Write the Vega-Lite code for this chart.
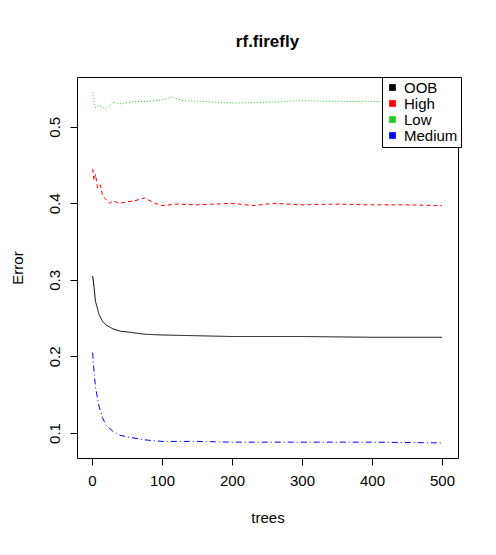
{
  "$schema": "https://vega.github.io/schema/vega-lite/v6.json",
  "autosize": {"type": "none"},
  "width": 381,
  "height": 381,
  "padding": {"left": 77, "top": 77, "right": 38, "bottom": 97},
  "background": "white",
  "title": {"text": "rf.firefly", "font": "Liberation Sans", "fontSize": 17, "fontWeight": "bold", "offset": 26, "anchor": "middle"},
  "config": {
    "view": {"stroke": "black", "strokeWidth": 1},
    "font": "Liberation Sans",
    "axis": {"grid": false, "domain": false, "tickColor": "black", "tickSize": 7, "labelColor": "black", "labelFontSize": 15, "labelPadding": 8, "titleFontSize": 15, "titleFontWeight": "normal", "titleColor": "black"}
  },
  "data": {"values": [
    {"trees": 1, "err": 0.305, "class": "OOB"},
    {"trees": 3, "err": 0.29, "class": "OOB"},
    {"trees": 5, "err": 0.272, "class": "OOB"},
    {"trees": 10, "err": 0.255, "class": "OOB"},
    {"trees": 15, "err": 0.246, "class": "OOB"},
    {"trees": 20, "err": 0.241, "class": "OOB"},
    {"trees": 30, "err": 0.236, "class": "OOB"},
    {"trees": 40, "err": 0.233, "class": "OOB"},
    {"trees": 50, "err": 0.232, "class": "OOB"},
    {"trees": 75, "err": 0.229, "class": "OOB"},
    {"trees": 100, "err": 0.228, "class": "OOB"},
    {"trees": 150, "err": 0.227, "class": "OOB"},
    {"trees": 200, "err": 0.226, "class": "OOB"},
    {"trees": 300, "err": 0.226, "class": "OOB"},
    {"trees": 400, "err": 0.225, "class": "OOB"},
    {"trees": 500, "err": 0.225, "class": "OOB"},
    {"trees": 1, "err": 0.445, "class": "High"},
    {"trees": 3, "err": 0.43, "class": "High"},
    {"trees": 5, "err": 0.438, "class": "High"},
    {"trees": 8, "err": 0.42, "class": "High"},
    {"trees": 12, "err": 0.424, "class": "High"},
    {"trees": 15, "err": 0.41, "class": "High"},
    {"trees": 20, "err": 0.405, "class": "High"},
    {"trees": 25, "err": 0.4, "class": "High"},
    {"trees": 30, "err": 0.403, "class": "High"},
    {"trees": 40, "err": 0.4, "class": "High"},
    {"trees": 50, "err": 0.402, "class": "High"},
    {"trees": 60, "err": 0.403, "class": "High"},
    {"trees": 75, "err": 0.407, "class": "High"},
    {"trees": 90, "err": 0.4, "class": "High"},
    {"trees": 100, "err": 0.397, "class": "High"},
    {"trees": 120, "err": 0.399, "class": "High"},
    {"trees": 150, "err": 0.398, "class": "High"},
    {"trees": 200, "err": 0.4, "class": "High"},
    {"trees": 230, "err": 0.397, "class": "High"},
    {"trees": 260, "err": 0.4, "class": "High"},
    {"trees": 300, "err": 0.398, "class": "High"},
    {"trees": 350, "err": 0.399, "class": "High"},
    {"trees": 400, "err": 0.398, "class": "High"},
    {"trees": 450, "err": 0.398, "class": "High"},
    {"trees": 500, "err": 0.397, "class": "High"},
    {"trees": 1, "err": 0.545, "class": "Low"},
    {"trees": 3, "err": 0.53, "class": "Low"},
    {"trees": 5, "err": 0.525, "class": "Low"},
    {"trees": 10, "err": 0.528, "class": "Low"},
    {"trees": 20, "err": 0.523, "class": "Low"},
    {"trees": 30, "err": 0.532, "class": "Low"},
    {"trees": 40, "err": 0.53, "class": "Low"},
    {"trees": 60, "err": 0.533, "class": "Low"},
    {"trees": 80, "err": 0.533, "class": "Low"},
    {"trees": 100, "err": 0.535, "class": "Low"},
    {"trees": 115, "err": 0.539, "class": "Low"},
    {"trees": 130, "err": 0.534, "class": "Low"},
    {"trees": 160, "err": 0.533, "class": "Low"},
    {"trees": 200, "err": 0.531, "class": "Low"},
    {"trees": 250, "err": 0.532, "class": "Low"},
    {"trees": 300, "err": 0.534, "class": "Low"},
    {"trees": 350, "err": 0.533, "class": "Low"},
    {"trees": 400, "err": 0.533, "class": "Low"},
    {"trees": 450, "err": 0.533, "class": "Low"},
    {"trees": 500, "err": 0.534, "class": "Low"},
    {"trees": 1, "err": 0.205, "class": "Medium"},
    {"trees": 3, "err": 0.18, "class": "Medium"},
    {"trees": 5, "err": 0.16, "class": "Medium"},
    {"trees": 10, "err": 0.135, "class": "Medium"},
    {"trees": 15, "err": 0.12, "class": "Medium"},
    {"trees": 20, "err": 0.11, "class": "Medium"},
    {"trees": 30, "err": 0.102, "class": "Medium"},
    {"trees": 40, "err": 0.097, "class": "Medium"},
    {"trees": 50, "err": 0.095, "class": "Medium"},
    {"trees": 75, "err": 0.091, "class": "Medium"},
    {"trees": 100, "err": 0.089, "class": "Medium"},
    {"trees": 150, "err": 0.089, "class": "Medium"},
    {"trees": 200, "err": 0.088, "class": "Medium"},
    {"trees": 300, "err": 0.088, "class": "Medium"},
    {"trees": 400, "err": 0.088, "class": "Medium"},
    {"trees": 500, "err": 0.087, "class": "Medium"}
  ]},
  "mark": {"type": "line", "strokeWidth": 1, "clip": true},
  "encoding": {
    "x": {"field": "trees", "type": "quantitative", "title": "trees",
      "scale": {"domain": [-21.4, 522.9], "nice": false, "zero": false},
      "axis": {"values": [0, 100, 200, 300, 400, 500], "titlePadding": 22}},
    "y": {"field": "err", "type": "quantitative", "title": "Error",
      "scale": {"domain": [0.0673, 0.565], "nice": false, "zero": false},
      "axis": {"values": [0.1, 0.2, 0.3, 0.4, 0.5], "labelAngle": -90, "labelAlign": "center", "labelBaseline": "bottom", "titlePadding": 22}},
    "color": {"field": "class", "type": "nominal", "title": null,
      "scale": {"domain": ["OOB", "High", "Low", "Medium"], "range": ["black", "red", "#22cc22", "blue"]},
      "legend": {"orient": "none", "legendX": 305, "legendY": 0, "symbolType": "square", "symbolSize": 45,
        "symbolStrokeWidth": 0, "symbolDash": [],
        "strokeColor": "black", "fillColor": "white", "padding": 3, "labelFontSize": 15, "labelColor": "black",
        "rowPadding": -5, "labelLimit": 60,
        "encode": {"symbols": {"update": {"fill": {"scale": "color", "field": "value"}, "strokeWidth": {"value": 0}}}}}},
    "strokeDash": {"field": "class", "type": "nominal", "legend": null,
      "scale": {"domain": ["OOB", "High", "Low", "Medium"], "range": [[1, 0], [4, 3], [1, 2], [6, 3, 1, 3]]}}
  }
}
